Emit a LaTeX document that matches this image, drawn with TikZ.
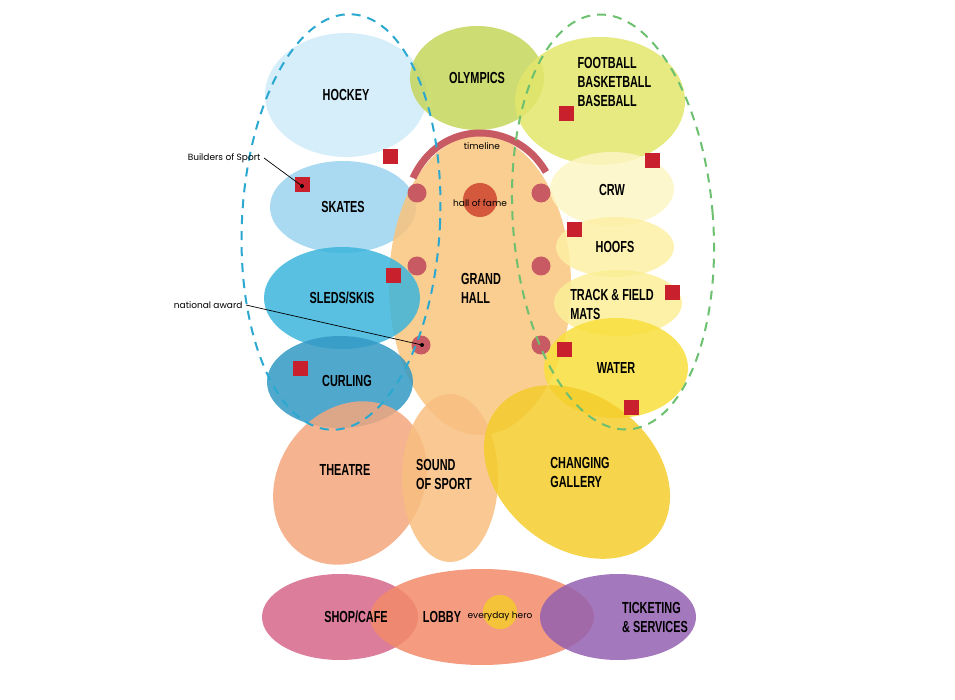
\documentclass[tikz,border=0pt]{standalone}
\usepackage{fontspec}
\newfontfamily\zonefont[FakeStretch=0.68]{Liberation Sans}
\newfontfamily\notefont{Poppins}
\usetikzlibrary{shapes.geometric}
\definecolor{hockeyc}{HTML}{CFEAF9}
\definecolor{olympc}{HTML}{C6D65C}
\definecolor{footc}{HTML}{E2E66A}
\definecolor{skatec}{HTML}{9AD3EE}
\definecolor{sledc}{HTML}{3CB5DC}
\definecolor{curlc}{HTML}{3399C4}
\definecolor{crwc}{HTML}{FDF6C4}
\definecolor{hoofc}{HTML}{FDF0A4}
\definecolor{trackc}{HTML}{FBEE96}
\definecolor{waterc}{HTML}{F8DF3C}
\definecolor{hallc}{HTML}{F9C47C}
\definecolor{theatc}{HTML}{F4A67C}
\definecolor{soundc}{HTML}{F8BE80}
\definecolor{galc}{HTML}{F4CD2C}
\definecolor{shopc}{HTML}{D5668A}
\definecolor{lobbyc}{HTML}{F28A6A}
\definecolor{tickc}{HTML}{9460B0}
\definecolor{heroc}{HTML}{F5C33A}
\definecolor{famec}{HTML}{D4583C}
\definecolor{dotc}{HTML}{C85A64}
\definecolor{awardc}{HTML}{C8202C}
\definecolor{bluedash}{HTML}{2AA8D0}
\definecolor{greendash}{HTML}{6CC070}
\tikzset{
  zone/.style={ellipse,inner sep=0pt,fill opacity=0.85,text opacity=1,align=center,font=\zonefont\bfseries\fontsize{16}{19}\selectfont},
  zonetext/.style={align=left,font=\zonefont\bfseries\fontsize{16}{19}\selectfont},
  note/.style={font=\notefont\fontsize{9}{10}\selectfont},
  spot/.style={circle,fill=dotc,inner sep=0pt,minimum size=19pt},
  award/.style={fill=awardc,inner sep=0pt,minimum size=15pt},
  pin/.style={circle,fill=black,inner sep=0pt,minimum size=4pt},
  group/.style={line width=2pt,dash pattern=on 9pt off 7pt}
}

\begin{document}
\begin{tikzpicture}[x=1pt,y=-1pt]
  \useasboundingbox (0,0) rectangle (955,700);

  % --- upper zones ---
  \node[zone,fill=hockeyc,minimum width=162pt,minimum height=124pt] (hockey) at (346,95) {HOCKEY};
  \node[zone,fill=olympc,minimum width=134pt,minimum height=104pt] (olympics) at (477,78) {OLYMPICS};
  \node[zone,fill=footc,minimum width=170pt,minimum height=128pt] (football) at (600,101) {};
  \node[zonetext,anchor=west] (footlbl) at (574,82) {FOOTBALL\\BASKETBALL\\BASEBALL};

  % --- left column ---
  \node[zone,fill=skatec,minimum width=146pt,minimum height=92pt] (skates) at (343,207) {SKATES};
  \node[zone,fill=hallc,minimum width=182pt,minimum height=300pt] (grandhall) at (480,285) {};
  \node[zone,fill=sledc,minimum width=156pt,minimum height=102pt] (sleds) at (342,298) {SLEDS/SKIS};
  \node[zone,fill=curlc,minimum width=146pt,minimum height=92pt] (curling) at (340,382) {};
  \node[zonetext] (curllbl) at (347,381) {CURLING};

  % --- right column ---
  \node[zone,fill=crwc,minimum width=124pt,minimum height=74pt] (crw) at (612,189) {};
  \node[zonetext] (crwlbl) at (612,190) {CRW};
  \node[zone,fill=hoofc,minimum width=118pt,minimum height=60pt] (hoofs) at (615,247) {};
  \node[zonetext] (hooflbl) at (615,247) {HOOFS};
  \node[zone,fill=trackc,minimum width=128pt,minimum height=66pt] (track) at (618,303) {};
  \node[zonetext] (tracklbl) at (612,304) {TRACK \& FIELD\\MATS};
  \node[zone,fill=waterc,minimum width=144pt,minimum height=100pt] (water) at (616,368) {WATER};

  % --- lower zones ---
  \fill[theatc,fill opacity=0.85,rotate around={-35:(350,483)}] (350,483) ellipse [x radius=72pt,y radius=86pt];
  \node[zonetext] (theatre) at (345,470) {THEATRE};
  \fill[soundc,fill opacity=0.85] (450,478) ellipse [x radius=48pt,y radius=84pt];
  \node[zonetext] (sound) at (444,474) {SOUND\\OF SPORT};
  \fill[galc,fill opacity=0.85,rotate around={-38:(577,472)}] (577,472) ellipse [x radius=102pt,y radius=76pt];
  \node[zonetext] (gallery) at (580,472) {CHANGING\\GALLERY};

  % --- entrance row ---
  \node[zone,fill=shopc,minimum width=156pt,minimum height=86pt] (shop) at (340,617) {};
  \node[zone,fill=lobbyc,minimum width=224pt,minimum height=96pt] (lobby) at (482,617) {};
  \node[zone,fill=tickc,minimum width=156pt,minimum height=86pt] (ticketing) at (618,617) {};
  \node[zonetext] (shoplbl) at (356,617) {SHOP/CAFE};
  \node[zonetext] (lobbylbl) at (442,617) {LOBBY};
  \node[zonetext] (ticklbl) at (655,617) {TICKETING\\\& SERVICES};
  \node[circle,fill=heroc,inner sep=0pt,minimum size=34pt] (hero) at (500,612) {};
  \node[note] (herolbl) at (500,616) {everyday hero};

  % --- grand hall contents ---
  \draw[dotc,line width=7pt] (413,178) .. controls (440,119) and (515,119) .. (546,172);
  \node[note] (timeline) at (482,146) {timeline};
  \node[circle,fill=famec,inner sep=0pt,minimum size=34pt] (fame) at (480,200) {};
  \node[note] (famelbl) at (480,203) {hall of fame};
  \node[zonetext] (halllbl) at (481,288) {GRAND\\HALL};
  \foreach \n/\x/\y in {s1/417/193,s2/541/193,s3/417/266,s4/541/266,s5/421/345,s6/541/345}
    \node[spot] (\n) at (\x,\y) {};

  % --- awards ---
  \foreach \n/\x/\y in {a1/390/157,a2/302/185,a3/393/276,a4/300/368,a5/566/114,a6/652/161,a7/574/230,a8/672/293,a9/564/349,a10/631/407}
    \node[award] (\n) at (\x,\y) {};

  % --- groupings ---
  \draw[group,bluedash,rotate around={-3:(341,222)}] (341,222) ellipse [x radius=99pt,y radius=208pt];
  \draw[group,greendash,rotate around={4.5:(613,222)}] (613,222) ellipse [x radius=100pt,y radius=208pt];

  % --- callouts ---
  \node[note,anchor=east] (builders) at (264,158) {Builders of Sport};
  \node[pin] (bpin) at (302,186) {};
  \draw[line width=0.7pt] (builders.east) -- (bpin);
  \node[note,anchor=east] (national) at (246,305) {national award};
  \node[pin] (npin) at (422,345) {};
  \draw[line width=0.7pt] (national.east) -- (npin);
\end{tikzpicture}
\end{document}
